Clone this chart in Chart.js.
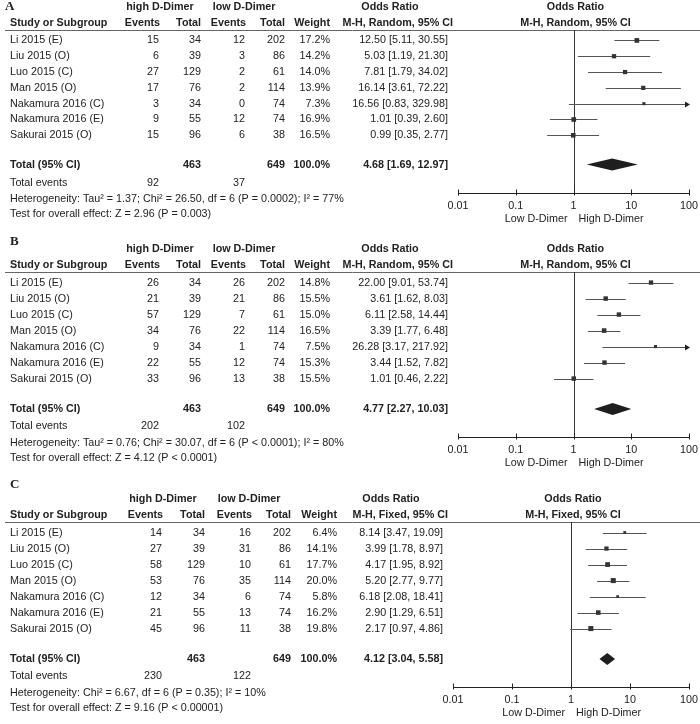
<!DOCTYPE html>
<html>
<head>
<meta charset="utf-8">
<script src="https://cdn.jsdelivr.net/npm/chart.js@4"></script>
<style>
  body { margin: 0; background: #fff; }
  canvas { position: absolute; left: 0; }
</style>
</head>
<body>
<canvas id="panelA" width="700" height="235" style="top:0"></canvas>
<canvas id="panelB" width="700" height="240" style="top:235px"></canvas>
<canvas id="panelC" width="700" height="249" style="top:475px"></canvas>
<script>
const studies = [
  "Li 2015 (E)",
  "Liu 2015 (O)",
  "Luo 2015 (C)",
  "Man 2015 (O)",
  "Nakamura 2016 (C)",
  "Nakamura 2016 (E)",
  "Sakurai 2015 (O)",
];
const highTotal = [34, 39, 129, 76, 34, 55, 96];
const lowTotal = [202, 86, 61, 114, 74, 74, 38];
const tickValues = [0.01, 0.1, 1, 10, 100];
const tickLabels = ["0.01", "0.1", "1", "10", "100"];

// panel A
const aHighEvents = [15, 6, 27, 17, 3, 9, 15];
const aLowEvents = [12, 3, 2, 2, 0, 12, 6];
const aWeight = [17.2, 14.2, 14.0, 13.9, 7.3, 16.9, 16.5];
const aOR = [12.5, 5.03, 7.81, 16.14, 16.56, 1.01, 0.99];
const aLo = [5.11, 1.19, 1.79, 3.61, 0.83, 0.39, 0.35];
const aHi = [30.55, 21.3, 34.02, 72.22, 329.98, 2.6, 2.77];
const aTotal = [4.68, 1.69, 12.97];
const aEvents = [92, 37];

// panel B
const bHighEvents = [26, 21, 57, 34, 9, 22, 33];
const bLowEvents = [26, 21, 7, 22, 1, 12, 13];
const bWeight = [14.8, 15.5, 15.0, 16.5, 7.5, 15.3, 15.5];
const bOR = [22.0, 3.61, 6.11, 3.39, 26.28, 3.44, 1.01];
const bLo = [9.01, 1.62, 2.58, 1.77, 3.17, 1.52, 0.46];
const bHi = [53.74, 8.03, 14.44, 6.48, 217.92, 7.82, 2.22];
const bTotal = [4.77, 2.27, 10.03];
const bEvents = [202, 102];

// panel C
const cHighEvents = [14, 27, 58, 53, 12, 21, 45];
const cLowEvents = [16, 31, 10, 35, 6, 13, 11];
const cWeight = [6.4, 14.1, 17.7, 20.0, 5.8, 16.2, 19.8];
const cOR = [8.14, 3.99, 4.17, 5.2, 6.18, 2.9, 2.17];
const cLo = [3.47, 1.78, 1.95, 2.77, 2.08, 1.29, 0.97];
const cHi = [19.09, 8.97, 8.92, 9.77, 18.41, 6.51, 4.86];
const cTotal = [4.12, 3.04, 5.58];
const cEvents = [230, 122];

const FONT = '"Liberation Sans", Arial, sans-serif';
const fmt2 = (v) => v.toFixed(2);

function forestPlugin(p) {
  return {
    id: "forest" + p.letter,
    beforeDatasetsDraw(chart) {
      const { ctx, chartArea } = chart;
      const x = chart.scales.x;
      const y = chart.scales.y;
      ctx.save();
      // header rule
      ctx.strokeStyle = "#666";
      ctx.lineWidth = 1;
      ctx.beginPath();
      ctx.moveTo(5, Math.round(chartArea.top) + 0.5);
      ctx.lineTo(700, Math.round(chartArea.top) + 0.5);
      ctx.stroke();
      // line of no effect
      const x1 = Math.round(x.getPixelForValue(1)) + 0.5;
      ctx.strokeStyle = "#333";
      ctx.beginPath();
      ctx.moveTo(x1, chartArea.top);
      ctx.lineTo(x1, chartArea.bottom);
      ctx.stroke();
      // axis
      const ay = Math.round(chartArea.bottom) + 0.5;
      ctx.strokeStyle = "#222";
      ctx.beginPath();
      ctx.moveTo(x.getPixelForValue(0.01), ay);
      ctx.lineTo(x.getPixelForValue(100), ay);
      tickValues.forEach((t) => {
        const tx = Math.round(x.getPixelForValue(t)) + 0.5;
        ctx.moveTo(tx, ay - 4);
        ctx.lineTo(tx, ay + 2);
      });
      ctx.stroke();
      // confidence intervals
      ctx.strokeStyle = "#555";
      ctx.fillStyle = "#222";
      p.or.forEach((v, i) => {
        const py = Math.round(y.getPixelForValue(i)) + 0.5;
        const lo = x.getPixelForValue(Math.max(p.lo[i], 0.01));
        const hi = x.getPixelForValue(Math.min(p.hi[i], 100));
        ctx.beginPath();
        ctx.moveTo(lo, py);
        ctx.lineTo(hi, py);
        ctx.stroke();
        if (p.hi[i] > 100) {
          ctx.beginPath();
          ctx.moveTo(hi + 1, py);
          ctx.lineTo(hi - 4, py - 3);
          ctx.lineTo(hi - 4, py + 3);
          ctx.closePath();
          ctx.fill();
        }
      });
      // pooled diamond
      const dy = y.getPixelForValue(p.totalRow);
      ctx.fillStyle = "#1e1e1e";
      ctx.beginPath();
      ctx.moveTo(x.getPixelForValue(p.total[1]), dy);
      ctx.lineTo(x.getPixelForValue(p.total[0]), dy - 6);
      ctx.lineTo(x.getPixelForValue(p.total[2]), dy);
      ctx.lineTo(x.getPixelForValue(p.total[0]), dy + 6);
      ctx.closePath();
      ctx.fill();
      ctx.restore();
    },
    afterDraw(chart) {
      const { ctx, chartArea } = chart;
      const x = chart.scales.x;
      const y = chart.scales.y;
      const c = p.cols;
      ctx.save();
      ctx.fillStyle = "#222";
      ctx.textBaseline = "middle";
      const text = (s, tx, ty, align, bold) => {
        ctx.font = (bold ? "bold " : "") + "10.75px " + FONT;
        ctx.textAlign = align;
        ctx.fillText(s, tx, ty);
      };
      // panel letter
      ctx.font = 'bold 13px "Liberation Serif", "Times New Roman", serif';
      ctx.textAlign = "left";
      ctx.fillText(p.letter, p.letterX, p.letterY);

      const h1 = y.getPixelForValue(-2.12);
      const h2 = y.getPixelForValue(-1.1);
      text("high D-Dimer", p.grpCenter[0], h1, "center", true);
      text("low D-Dimer", p.grpCenter[1], h1, "center", true);
      text("Odds Ratio", p.orCenter, h1, "center", true);
      text("Odds Ratio", x.getPixelForValue(1) + 2, h1, "center", true);
      text("Study or Subgroup", 10, h2, "left", true);
      text("Events", c[0] + 1, h2, "right", true);
      text("Total", c[1], h2, "right", true);
      text("Events", c[2] + 1, h2, "right", true);
      text("Total", c[3], h2, "right", true);
      text("Weight", c[4], h2, "right", true);
      text(p.method, p.ciRight + 5, h2, "right", true);
      text(p.method, x.getPixelForValue(1) + 2, h2, "center", true);

      studies.forEach((s, i) => {
        const ry = y.getPixelForValue(i);
        text(s, 10, ry, "left");
        text(String(p.highEvents[i]), c[0], ry, "right");
        text(String(highTotal[i]), c[1], ry, "right");
        text(String(p.lowEvents[i]), c[2], ry, "right");
        text(String(lowTotal[i]), c[3], ry, "right");
        text(p.weight[i].toFixed(1) + "%", c[4], ry, "right");
        text(fmt2(p.or[i]) + " [" + fmt2(p.lo[i]) + ", " + fmt2(p.hi[i]) + "]", p.ciRight, ry, "right");
      });

      const ty = y.getPixelForValue(p.totalRow);
      const sum = (a) => a.reduce((s, v) => s + v, 0);
      text("Total (95% CI)", 10, ty, "left", true);
      text(String(sum(highTotal)), c[1], ty, "right", true);
      text(String(sum(lowTotal)), c[3], ty, "right", true);
      text("100.0%", c[4], ty, "right", true);
      text(fmt2(p.total[0]) + " [" + fmt2(p.total[1]) + ", " + fmt2(p.total[2]) + "]", p.ciRight, ty, "right", true);

      const ey = y.getPixelForValue(8.99);
      text("Total events", 10, ey, "left");
      text(String(p.events[0]), c[0], ey, "right");
      text(String(p.events[1]), c[2], ey, "right");
      text(p.het, 10, y.getPixelForValue(10.03), "left");
      text(p.test, 10, y.getPixelForValue(10.98), "left");

      // axis labels
      const ay = chartArea.bottom;
      tickValues.forEach((t, i) => {
        text(tickLabels[i], x.getPixelForValue(t), ay + 13, "center");
      });
      const one = x.getPixelForValue(1);
      text("Low D-Dimer", one - 6, ay + 26, "right");
      text("High D-Dimer", one + 5, ay + 26, "left");
      ctx.restore();
    },
  };
}

function makePanel(id, p) {
  new Chart(document.getElementById(id), {
    type: "scatter",
    data: {
      datasets: [
        {
          data: p.or.map((v, i) => ({ x: v, y: i })),
          pointStyle: "rect",
          pointRadius: p.weight.map((w) => Math.sqrt(w) * 0.8),
          backgroundColor: "#333",
          borderWidth: 0,
        },
      ],
    },
    options: {
      responsive: false,
      animation: false,
      events: [],
      layout: { padding: { left: p.left, right: 11, top: p.top, bottom: p.bottom } },
      scales: {
        x: { type: "logarithmic", min: 0.01, max: 100, display: false },
        y: { type: "linear", min: -0.66, max: 9.65, reverse: true, display: false },
      },
      plugins: { legend: { display: false }, tooltip: { enabled: false } },
    },
    plugins: [forestPlugin(p)],
  });
}

makePanel("panelA", {
  letter: "A", letterX: 5, letterY: 7,
  top: 30, bottom: 42, left: 458,
  cols: [159, 201, 245, 285, 330], ciRight: 448, grpCenter: [160, 244], orCenter: 390,
  method: "M-H, Random, 95% CI",
  highEvents: aHighEvents, lowEvents: aLowEvents, weight: aWeight,
  or: aOR, lo: aLo, hi: aHi, total: aTotal, events: aEvents, totalRow: 7.85,
  het: "Heterogeneity: Tau\u00b2 = 1.37; Chi\u00b2 = 26.50, df = 6 (P = 0.0002); I\u00b2 = 77%",
  test: "Test for overall effect: Z = 2.96 (P = 0.003)",
});

makePanel("panelB", {
  letter: "B", letterX: 10, letterY: 7,
  top: 37, bottom: 38, left: 458,
  cols: [159, 201, 245, 285, 330], ciRight: 448, grpCenter: [160, 244], orCenter: 390,
  method: "M-H, Random, 95% CI",
  highEvents: bHighEvents, lowEvents: bLowEvents, weight: bWeight,
  or: bOR, lo: bLo, hi: bHi, total: bTotal, events: bEvents, totalRow: 7.9,
  het: "Heterogeneity: Tau\u00b2 = 0.76; Chi\u00b2 = 30.07, df = 6 (P < 0.0001); I\u00b2 = 80%",
  test: "Test for overall effect: Z = 4.12 (P < 0.0001)",
});

makePanel("panelC", {
  letter: "C", letterX: 10, letterY: 10,
  top: 47, bottom: 37, left: 453,
  cols: [162, 205, 251, 291, 337], ciRight: 443, grpCenter: [163, 249], orCenter: 391,
  method: "M-H, Fixed, 95% CI",
  highEvents: cHighEvents, lowEvents: cLowEvents, weight: cWeight,
  or: cOR, lo: cLo, hi: cHi, total: cTotal, events: cEvents, totalRow: 7.9,
  het: "Heterogeneity: Chi\u00b2 = 6.67, df = 6 (P = 0.35); I\u00b2 = 10%",
  test: "Test for overall effect: Z = 9.16 (P < 0.00001)",
});
</script>
</body>
</html>
